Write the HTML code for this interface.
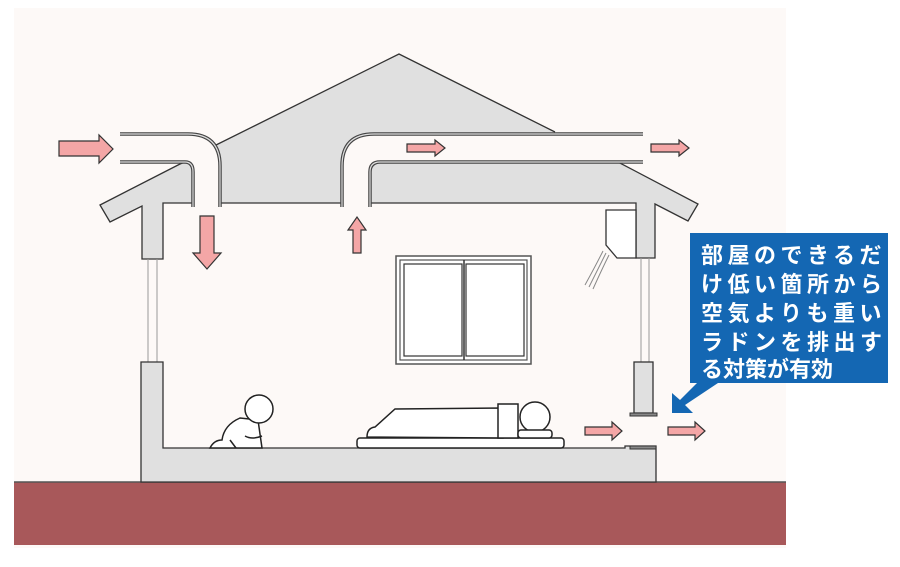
<!DOCTYPE html>
<html><head><meta charset="utf-8"><style>
html,body{margin:0;padding:0;background:#fff;width:900px;height:567px;overflow:hidden}
svg{display:block}
text{font-family:"Liberation Sans","Noto Sans CJK JP",sans-serif}
</style></head><body>
<svg width="900" height="567" viewBox="0 0 900 567" xmlns="http://www.w3.org/2000/svg">
<rect x="14" y="8" width="772" height="540" fill="#fdf9f7"/>
<rect x="14" y="482" width="772" height="63" fill="#a8585a"/>
<line x1="14" y1="482" x2="786" y2="482" stroke="#555" stroke-width="1.5"/>
<path d="M214,146 L399,54 L555,132 L380,134 Q342,134 342,170 L342,203 L220,203 L220,168 Q220,140 214,146 Z" fill="#e0e0e0" stroke="none"/>
<path d="M370,203 L370,175 Q370,162 384,162 L618,162 L698,204 L688,221 L655,204 L655,258 L636,258 L636,203 Z" fill="#e0e0e0" stroke="#333" stroke-width="1.3"/>
<path d="M214,146 L399,54 L555,132" fill="none" stroke="#333" stroke-width="1.3"/>
<line x1="220" y1="203" x2="342" y2="203" stroke="#333" stroke-width="1.3"/>
<path d="M100,205 L180,164 L185,162 Q193,162 193,172 L193,203 L163,203 L163,259 L142,259 L142,206 L110,222 Z" fill="#e0e0e0" stroke="#333" stroke-width="1.3"/>
<g fill="none" stroke="#444" stroke-width="3.5"><path d="M120,134 L188,134 Q220,134 220,166 L220,207"/><path d="M120,162 L185,162 Q193,162 193,172 L193,207"/><path d="M342,207 L342,166 Q342,134 374,134 L643,134"/><path d="M370,207 L370,172 Q370,162 380,162 L643,162"/></g>
<g fill="none" stroke="#ddd" stroke-width="1.2"><path d="M120,134 L188,134 Q220,134 220,166 L220,207"/><path d="M120,162 L185,162 Q193,162 193,172 L193,207"/><path d="M342,207 L342,166 Q342,134 374,134 L643,134"/><path d="M370,207 L370,172 Q370,162 380,162 L643,162"/></g>
<g stroke="#999" stroke-width="1"><line x1="148" y1="259" x2="148" y2="362"/><line x1="157" y1="259" x2="157" y2="362"/><line x1="641" y1="258" x2="641" y2="362"/><line x1="649" y1="258" x2="649" y2="362"/></g>
<path d="M141,362 L163,362 L163,448 L625,448 L625,446 L656,446 L656,482 L141,482 Z" fill="#e0e0e0" stroke="#333" stroke-width="1.3"/>
<rect x="630" y="446" width="26" height="3" fill="#888" stroke="#333"/>
<rect x="634" y="362" width="19" height="51" fill="#e0e0e0" stroke="#333" stroke-width="1.3"/>
<rect x="630" y="413" width="27" height="3" fill="#888" stroke="#333"/>
<path d="M606,210 L636,210 L636,258 L617,258 L606,245 Z" fill="#fff" stroke="#333" stroke-width="1.3"/>
<g stroke="#888" stroke-width="1" fill="none"><path d="M603,251 Q596,265 585,285"/><path d="M606,253 Q599,267 589,287"/><path d="M609,255 Q602,269 593,289"/></g>
<rect x="396" y="256" width="135" height="108" fill="#fff" stroke="#555" stroke-width="1.5"/>
<rect x="400" y="260" width="127" height="100" fill="none" stroke="#555" stroke-width="1.2"/>
<rect x="404" y="264" width="58" height="92" fill="none" stroke="#333" stroke-width="1.2"/>
<rect x="466" y="264" width="58" height="92" fill="none" stroke="#333" stroke-width="1.2"/>
<line x1="464" y1="260" x2="464" y2="360" stroke="#333" stroke-width="1.5"/>
<g fill="#fff" stroke="#222" stroke-width="1.5"><path d="M210,448 Q214,440 222,440 Q224,425 240,418 L258,420 L262,448 Z"/><circle cx="259" cy="409" r="14"/><path d="M230,440 L236,448 M245,436 Q252,440 262,436"/></g>
<g fill="#fff" stroke="#222" stroke-width="1.5"><rect x="357" y="438" width="207" height="10" rx="3"/><path d="M367,437 Q367,428 375,427 L395,409 L503,408 L503,438 Z"/><rect x="498" y="404" width="20" height="34"/><circle cx="535" cy="417" r="15"/><rect x="518" y="430" width="34" height="8" rx="3"/></g>
<g fill="#f4a6a6" stroke="#333" stroke-width="1.2">
<path d="M59,141 L99,141 L99,135 L113,149 L99,163 L99,156 L59,156 Z"/>
<path d="M200,216 L214,216 L214,253 L221,253 L207,269 L193,253 L200,253 Z"/>
<path d="M353,253 L361,253 L361,230 L366,230 L357,217 L348,230 L353,230 Z"/>
<path d="M407,144 L435,144 L435,140 L445,148 L435,156 L435,152 L407,152 Z"/>
<path d="M651,144 L679,144 L679,140 L689,148 L679,156 L679,152 L651,152 Z"/>
<path d="M585,427 L612,427 L612,422 L622,431 L612,440 L612,435 L585,435 Z"/>
<path d="M668,427 L695,427 L695,422 L705,431 L695,440 L695,435 L668,435 Z"/>
</g>
<rect x="690" y="233" width="198" height="150" fill="#1467b3"/>
<path d="M700,380 L718,383 L685,405 L693,413 L672,413 L672,393 L680,400 Z" fill="#1467b3"/>
<g fill="#fff" font-size="22" font-weight="bold">
<text x="701" y="263" letter-spacing="4.5">部屋のできるだ</text>
<text x="701" y="292" letter-spacing="4.5">け低い箇所から</text>
<text x="701" y="321" letter-spacing="4.5">空気よりも重い</text>
<text x="701" y="350" letter-spacing="4.5">ラドンを排出す</text>
<text x="701" y="377">る対策が有効</text>
</g>
</svg>
</body></html>
